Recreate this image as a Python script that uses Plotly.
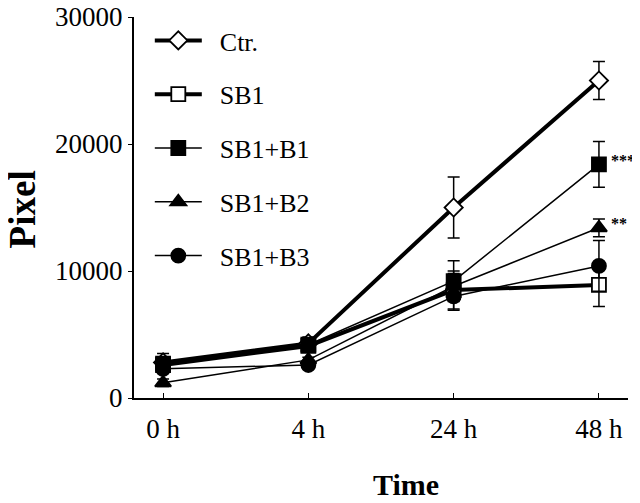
import plotly.graph_objects as go

times = ["0 h", "4 h", "24 h", "48 h"]
series_names = ["Ctr.", "SB1", "SB1+B1", "SB1+B2", "SB1+B3"]
ctr = [2800, 4300, 15000, 25000]
sb1 = [2600, 4100, 8500, 8900]
sb1_b1 = [2700, 4200, 9200, 18400]
sb1_b2 = [1200, 3000, 8800, 13400]
sb1_b3 = [2300, 2600, 8000, 10400]
err_ctr = [700, 500, 2400, 1500]
err_sb1 = [500, 400, 1500, 1700]
err_b1 = [400, 300, 1600, 1800]
err_b2 = [300, 200, 1000, 700]
err_b3 = [300, 300, 1100, 2000]
y_ticks = [0, 10000, 20000, 30000]
stars = [("***", 3, 18400), ("**", 3, 13400)]

values = [ctr, sb1, sb1_b1, sb1_b2, sb1_b3]
errors = [err_ctr, err_sb1, err_b1, err_b2, err_b3]
symbols = ["diamond", "square", "square", "triangle-up", "circle"]
fills = ["white", "white", "black", "black", "black"]
widths = [4, 4, 1.5, 1.5, 1.5]

FONT = "Liberation Serif"
fig = go.Figure()
for i, name in enumerate(series_names):
    fig.add_trace(go.Scatter(
        x=list(range(len(times))), y=values[i], name="\u00a0\u00a0" + name,
        mode="lines+markers", legendgroup=name,
        line=dict(color="black", width=widths[i]),
        marker=dict(symbol=symbols[i], size=14, color=fills[i],
                    line=dict(color="black", width=1.8)),
        error_y=dict(type="data", array=errors[i], visible=True,
                     color="black", thickness=1.5, width=6),
    ))

for txt, xi, yv in stars:
    fig.add_annotation(x=xi, y=yv, text="<b>" + txt + "</b>", showarrow=False,
                       xanchor="left", xshift=11, yshift=4, borderpad=0,
                       font=dict(family=FONT, size=16, color="black"))

fig.add_annotation(xref="paper", yref="paper", x=-0.226, y=0.496,
                   xanchor="center", yanchor="middle",
                   text="<b>Pixel</b>", textangle=-90, showarrow=False,
                   font=dict(family=FONT, size=37, color="black"))
fig.add_annotation(xref="paper", yref="paper", x=0.55, y=-0.228,
                   xanchor="center", yanchor="middle",
                   text="<b>Time</b>", showarrow=False,
                   font=dict(family=FONT, size=30, color="black"))

fig.update_layout(
    width=640, height=503,
    margin=dict(l=126, r=20, t=9, b=113, autoexpand=False),
    paper_bgcolor="white", plot_bgcolor="white",
    font=dict(family=FONT, size=27, color="black"),
    showlegend=True,
    legend=dict(x=0.032, y=1, xanchor="left", yanchor="top",
                font=dict(family=FONT, size=26, color="black"),
                bgcolor="rgba(0,0,0,0)", tracegroupgap=17, itemwidth=47),
    xaxis=dict(range=[-0.2, 3.2], tickmode="array",
               tickvals=list(range(len(times))), ticktext=times,
               showline=True, linecolor="black", linewidth=2,
               ticks="inside", ticklen=5, tickcolor="black", showgrid=False,
               zeroline=False, automargin=False, ticklabelstandoff=6,
               ticklabeloverflow="allow"),
    yaxis=dict(range=[0, 30000], tickmode="array", tickvals=y_ticks,
               ticktext=[str(v) for v in y_ticks],
               showline=True, linecolor="black", linewidth=2,
               ticks="outside", ticklen=4, tickcolor="black", showgrid=False,
               zeroline=False, automargin=False, ticklabeloverflow="allow"),
)

fig.write_html("out.html")
